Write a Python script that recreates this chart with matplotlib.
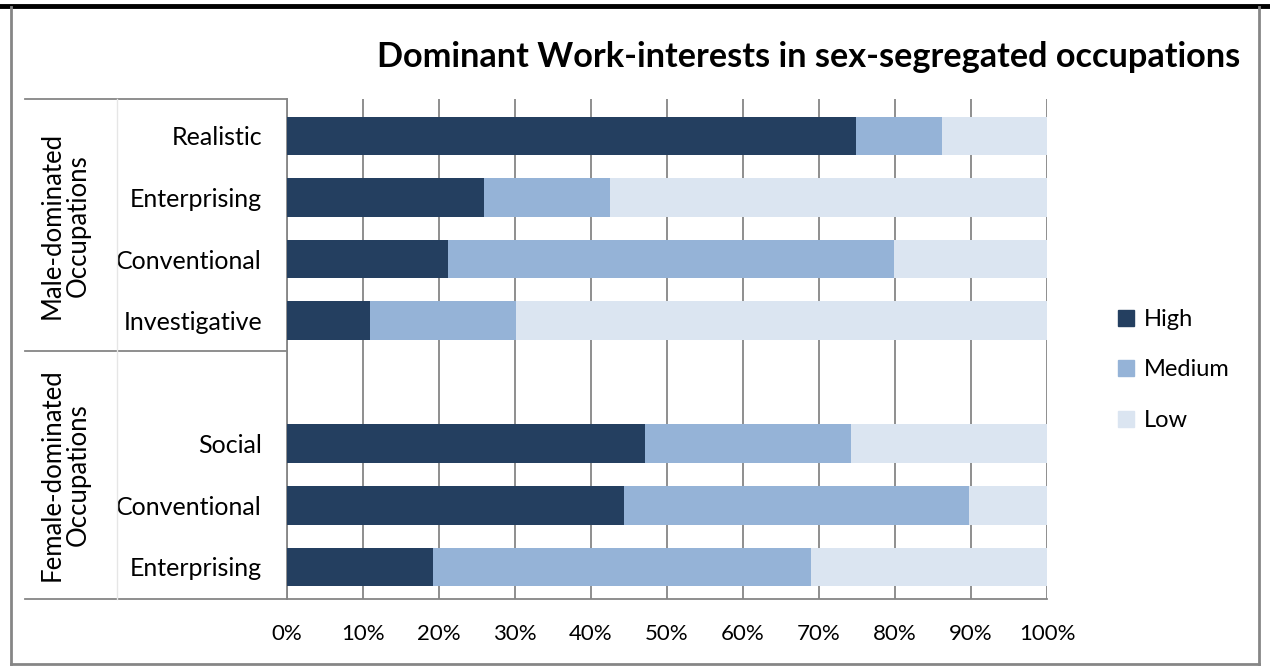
import numpy as np
import matplotlib.pyplot as plt
from matplotlib.lines import Line2D
from matplotlib.patches import Patch

# Data (percent of each occupation group)
categories = ['Realistic', 'Enterprising', 'Conventional', 'Investigative',
              'Social', 'Conventional', 'Enterprising']
groups = ['Male-dominated\nOccupations', 'Female-dominated\nOccupations']
high = [74.9, 25.9, 21.2, 10.9, 47.1, 44.3, 19.2]
medium = [11.3, 16.6, 58.7, 19.2, 27.1, 45.4, 49.7]
low = [100 - h - m for h, m in zip(high, medium)]
series_names = ['High', 'Medium', 'Low']
colors = ['#243F60', '#95B3D7', '#DBE5F1']
xticks = np.arange(0, 101, 10)
xticklabels = ['%d%%' % t for t in xticks]

# male rows take slots 0-3, slot 4 left empty, female rows slots 5-7
ypos = [0, 1, 2, 3, 5, 6, 7]

plt.rcParams['font.family'] = 'Lato'

fig = plt.figure(figsize=(12.7, 6.66), dpi=100)
W, H = 1270, 666

# outer frame: thick black top line and gray border
fig.add_artist(Line2D([0, 1], [1 - 5.5 / H, 1 - 5.5 / H], color='black', lw=3.5))
fig.add_artist(Line2D([11 / W, 11 / W], [1 - 7 / H, 1 - 664 / H], color='#868686', lw=2))
fig.add_artist(Line2D([1259 / W, 1259 / W], [1 - 7 / H, 1 - 664 / H], color='#868686', lw=2))
fig.add_artist(Line2D([11 / W, 1259 / W], [1 - 664 / H, 1 - 664 / H], color='#868686', lw=2))

ax = fig.add_axes([287 / W, 1 - 599 / H, 760 / W, 500 / H])

left = np.zeros(len(categories))
for vals, name, c in zip([high, medium, low], series_names, colors):
    ax.barh(ypos, vals, left=left, height=0.63, color=c, label=name, zorder=3)
    left += np.array(vals)

ax.set_xlim(0, 100)
ax.set_ylim(7.52, -0.6)
ax.set_xticks(xticks)
ax.set_xticklabels(xticklabels, fontsize=16)
ax.set_yticks(ypos)
ax.set_yticklabels(categories, fontsize=18)
ax.tick_params(axis='both', length=0)
ax.tick_params(axis='x', pad=18)
ax.tick_params(axis='y', pad=18)
ax.grid(axis='x', color='#868686', lw=1.3, zorder=0)
for s in ['top', 'right']:
    ax.spines[s].set_visible(False)
for s in ['left', 'bottom']:
    ax.spines[s].set_color('#868686')
    ax.spines[s].set_linewidth(1.3)

# multi-level category table on the left
tr = ax.get_yaxis_transform()
x0 = (25 - 287) / 760
xmid = (117 - 287) / 760
for yb in [-0.6, 3.5, 7.52]:
    ax.plot([x0, 0], [yb, yb], color='#868686', lw=1.3, transform=tr, clip_on=False)
ax.plot([xmid, xmid], [-0.6, 7.52], color='#E6E6E6', lw=1, transform=tr, clip_on=False)
xg = (65 - 287) / 760
ax.text(xg, 1.45, groups[0], rotation=90, ha='center', va='center', fontsize=18.5,
        linespacing=1.08, transform=tr)
ax.text(xg, 5.5, groups[1], rotation=90, ha='center', va='center', fontsize=18.5,
        linespacing=1.08, transform=tr)

fig.text(1240 / W, 1 - 57 / H, 'Dominant Work-interests in sex-segregated occupations',
         ha='right', va='center', fontsize=24.7, fontweight='bold')

handles = [Patch(color=c, label=n) for c, n in zip(colors, series_names)]
fig.legend(handles=handles, loc='center left', bbox_to_anchor=(1097 / W, 1 - 370 / H),
           frameon=False, fontsize=17, handlelength=0.65, handleheight=0.65,
           handletextpad=0.45, labelspacing=1.25)

fig.savefig('out.png', dpi=100)
